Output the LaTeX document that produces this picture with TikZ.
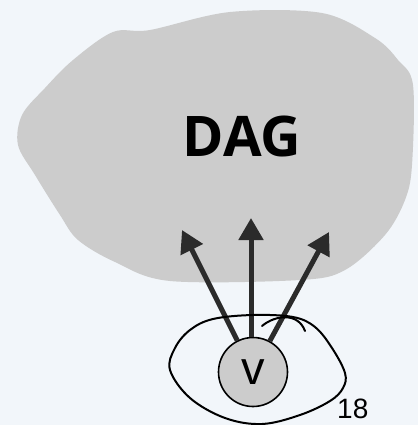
\documentclass[tikz,border=0pt]{standalone}
\usepackage{fontspec}
\setmainfont{Liberation Sans}
\newfontfamily\headfont{Open Sans}
\usetikzlibrary{arrows.meta}
\definecolor{bgcol}{HTML}{F2F6FA}
\definecolor{blobcol}{HTML}{CCCCCC}
\definecolor{arrowcol}{HTML}{2B2B2B}
\tikzset{
  blob/.style={fill=blobcol, draw=none},
  vertex/.style={circle, draw=black, line width=1.6pt, fill=blobcol, minimum size=69pt, inner sep=0pt,
    font=\fontsize{47}{47}\selectfont},
  edgearrow/.style={draw=arrowcol, line width=5pt, -{Triangle[length=22pt, width=24pt]}},
  loopline/.style={draw=black, line width=2pt, line join=round, line cap=round},
}
\begin{document}
\begin{tikzpicture}[x=1pt, y=-1pt]
  % page frame and background
  \fill[bgcol] (0,0) rectangle (418,425);
  \useasboundingbox (0,0) rectangle (418,425);

  % the DAG region
  \path[blob] plot[smooth cycle, tension=0.55] coordinates {
    (73,60) (113,32) (150,30) (230,12) (322,13) (375,38) (398,60) (413,85)
    (412,165) (405,200) (385,235) (345,270) (300,280) (170,281) (115,262)
    (78,240) (60,215) (35,175) (18,145) (22,115) (45,88)};
  \node[font=\headfont\bfseries\fontsize{56}{56}\selectfont] (dag) at (242,136) {DAG};

  % vertex v and its outgoing edges
  \node[vertex] (v) at (253,372) {v};
  \coordinate (t1) at (182,230);
  \coordinate (t2) at (251,218);
  \coordinate (t3) at (329,232);
  \draw[edgearrow] (v) -- (t1);
  \draw[edgearrow] (v.north -| t2) -- (t2);
  \draw[edgearrow] (v) -- (t3);

  % hand-drawn loop around v
  \draw[loopline] plot[smooth cycle, tension=0.6] coordinates {
    (170,370) (175,348) (190,330) (213,319) (253,315) (293,317) (315,327)
    (332,348) (345,373) (343,388) (330,401) (300,415) (262,424) (225,418)
    (190,398)};
  \draw[loopline] (262,326) .. controls (275,315) and (298,312) .. (305,331);

  \node[font=\fontsize{28}{28}\selectfont, anchor=base west, inner sep=0pt, text depth=0pt] (num) at (337,418) {18};
\end{tikzpicture}
\end{document}
